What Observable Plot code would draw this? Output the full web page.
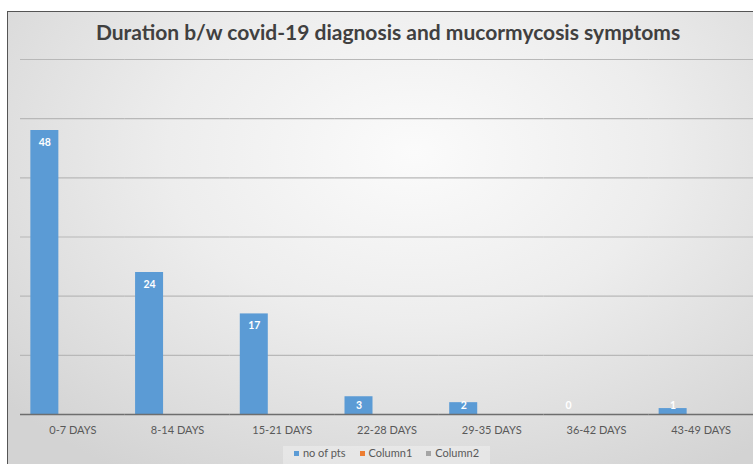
<!DOCTYPE html>
<html>
<head>
<meta charset="utf-8">
<script src="https://cdn.jsdelivr.net/npm/d3@7"></script>
<script src="https://cdn.jsdelivr.net/npm/@observablehq/plot@0.6"></script>
<style>
  html, body { margin: 0; padding: 0; background: #fff; }
  #page { position: relative; width: 753px; height: 464px; overflow: hidden; background: #fff; }
  #frame {
    position: absolute; left: 7px; top: 11px; width: 780px; height: 470px;
    border-left: 1.5px solid #555; border-top: 1.5px solid #555;
    background: radial-gradient(ellipse 70% 80% at 52% 30%, #fbfbfb 0%, #ededed 45%, #d3d3d3 100%);
  }
  #title {
    position: absolute; left: 0; top: 19px; width: 776px; text-align: center;
    font-family: Lato, sans-serif; font-weight: 700; font-size: 21px; color: #404040;
  }
  #chart { position: absolute; left: 0; top: 50px; }
  #legend {
    position: absolute; left: 283px; top: 446px; width: 207px; height: 22px; text-align: center;
    font-family: Lato, sans-serif; font-size: 11px; color: #595959; line-height: 14px;
    background: rgba(255, 255, 255, 0.3);
  }
  #legend span.item { margin: 0 7px; white-space: nowrap; }
  #legend span.sw { display: inline-block; width: 5px; height: 5px; margin-right: 4px; vertical-align: 1px; }
</style>
</head>
<body>
<div id="page">
  <div id="frame"></div>
  <div id="title">Duration b/w covid-19 diagnosis and mucormycosis symptoms</div>
  <div id="chart"></div>
  <div id="legend"></div>
</div>
<script>
// Days between covid-19 diagnosis and onset of mucormycosis symptoms
const categories = ["0-7 DAYS", "8-14 DAYS", "15-21 DAYS", "22-28 DAYS", "29-35 DAYS", "36-42 DAYS", "43-49 DAYS"];
const noOfPts = [48, 24, 17, 3, 2, 0, 1];
const seriesNames = ["no of pts", "Column1", "Column2"];
const seriesColors = ["#5b9bd5", "#ed7d31", "#a5a5a5"];
const gridTicks = [10, 20, 30, 40, 50, 60];

const rows = categories.map((c, i) => ({category: c, series: seriesNames[0], value: noOfPts[i]}));

const chart = Plot.plot({
  width: 753,
  height: 390,
  marginLeft: 20,
  marginRight: 0,
  marginTop: 9,
  marginBottom: 26,
  style: {background: "transparent", fontFamily: "Lato, sans-serif", overflow: "visible"},
  fx: {domain: categories, paddingInner: 0, paddingOuter: 0, round: false, label: null},
  x: {domain: seriesNames, paddingInner: 0, paddingOuter: 0.37, round: false, axis: null},
  y: {domain: [0, 60], axis: null},
  color: {domain: seriesNames, range: seriesColors},
  marks: [
    Plot.ruleY(gridTicks, {stroke: "#b8b8b8", strokeWidth: 1.2, strokeOpacity: 1}),
    Plot.barY(rows, {fx: "category", x: "series", y: "value", fill: "series", insetLeft: 0, insetRight: 0}),
    Plot.ruleY([0], {stroke: "#6e6e6e", strokeWidth: 1.5}),
    Plot.text(rows, {
      fx: "category", x: "series", y: d => Math.max(d.value, 3.6), dy: 12,
      text: d => String(d.value), fill: "#fff", fontWeight: 700, fontSize: 10.5
    }),
    Plot.axisFx({anchor: "bottom", tickSize: 0, tickPadding: 12, fontSize: 11, color: "#595959", label: null})
  ]
});
document.getElementById("chart").appendChild(chart);

// Legend below the plot
const legend = document.getElementById("legend");
seriesNames.forEach((name, i) => {
  const item = document.createElement("span");
  item.className = "item";
  const sw = document.createElement("span");
  sw.className = "sw";
  sw.style.background = seriesColors[i];
  item.appendChild(sw);
  item.appendChild(document.createTextNode(name));
  legend.appendChild(item);
});
</script>
</body>
</html>
